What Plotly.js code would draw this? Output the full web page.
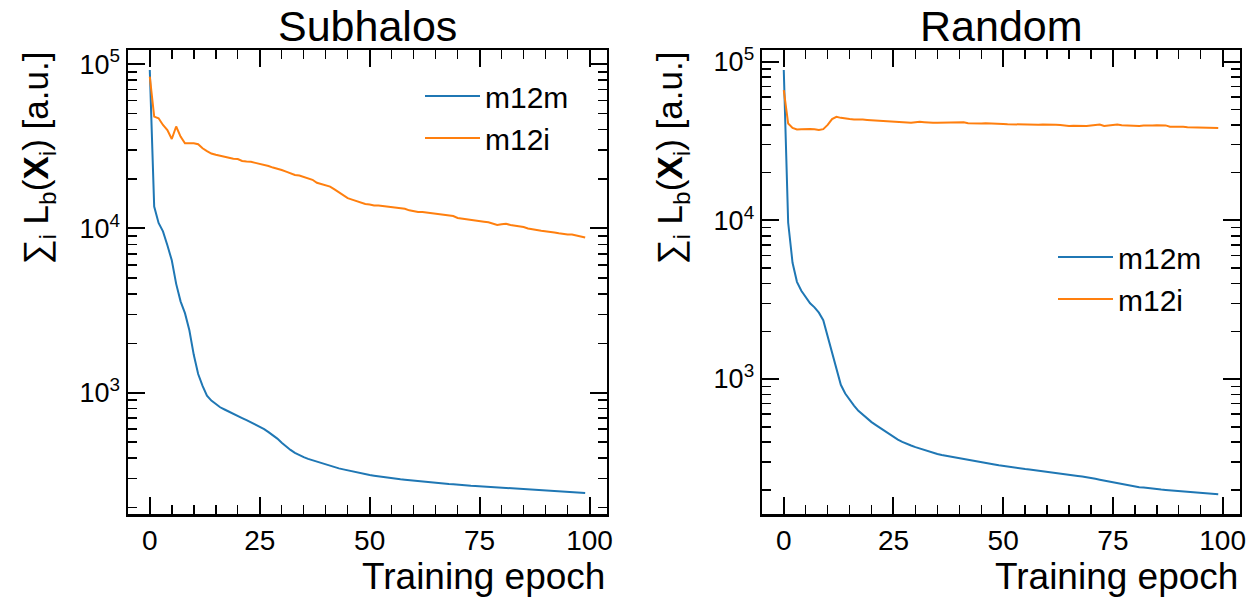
<!DOCTYPE html>
<html>
<head>
<meta charset="utf-8">
<script src="https://cdn.plot.ly/plotly-3.0.1.min.js"></script>
<style>html,body{margin:0;padding:0;background:#fff;}#chart{width:1260px;height:597px;}</style>
</head>
<body>
<div id="chart"></div>
<script>
// Epoch axis
const epochs = Array.from({length: 100}, (_, i) => i);

// Subhalos panel
const subhalosM12m = [92300,13600,10800,9600,7900,6400,4600,3600,3050,2400,
  1700,1300,1100,960,895,850,815,790,765,740,
  720,700,680,660,640,620,600,575,550,525,
  495,470,448,430,415,405,395,387,380,372,
  365,358,352,346,341,336,331,327,323,319,
  315,312,309,306,303,301,299,297,295,293,
  291,289,287,286,284,283,281,280,278,277,
  275,274,272,271,270,269,267,266,265,264,
  263,262,261,260,259,258,257,256,256,255,
  254,253,252,251,250,249,248,247,246,245];
const subhalosM12i = [84100,48000,46900,42700,39800,35100,41800,36300,33000,33000,
  33000,32600,30800,29600,28600,28100,27700,27600,27200,26600,
  26500,25800,25600,25500,25100,24800,24400,24000,23500,23200,
  22700,22200,21600,21200,21000,20600,20300,19800,19000,18700,
  18300,18000,17300,16600,16000,15300,15000,14700,14500,14100,
  14000,13800,13800,13700,13600,13400,13400,13300,13200,12900,
  12700,12600,12600,12500,12500,12300,12200,12100,12000,11900,
  11600,11500,11500,11400,11300,11200,11000,10900,10700,10500,
  10600,10700,10500,10400,10400,10200,10000,9850,9800,9700,
  9650,9500,9450,9350,9250,9200,9200,9100,8950,8820];

// Random panel
const randomM12m = [88700,9700,5400,4100,3600,3300,3000,2830,2620,2350,
  1850,1450,1130,920,810,740,680,630,595,565,
  535,512,490,468,448,430,415,402,390,381,
  372,364,356,349,343,337,332,328,323,319,
  315,312,308,304,301,298,295,292,289,286,
  283,281,278,276,273,271,269,267,265,263,
  261,259,257,254,251,249,247,245,243,241,
  238,235,232,229,226,223,220,217,214,212,
  210,208,207,205,204,202,201,200,199,198,
  197,196,195,194,193,192,191,190,189,188];
const randomM12i = [66200,40800,38300,37400,37600,37800,37700,37600,37200,37600,
  40000,43500,45000,44300,43800,43500,43300,43400,43200,43000,
  42800,42600,42400,42200,41900,41600,41700,41500,41300,41200,
  41500,41800,41600,41300,41200,41300,41400,41300,41500,41400,
  41400,41500,41000,40800,40900,40800,40900,40700,40600,40600,
  40500,40400,40300,40200,40300,40200,40300,40200,40100,40200,
  40300,40200,40100,40000,39500,39400,39500,39400,39500,39400,
  39700,40000,40200,39400,39600,39900,40200,39800,39600,39500,
  39600,39400,39600,39500,39700,39800,39900,39700,38900,39000,
  38800,38900,38700,38600,38700,38500,38300,38200,38300,38200];

const seriesNames = ["m12m", "m12i"];
const panelTitles = ["Subhalos", "Random"];
const xTickVals = [0, 25, 50, 75, 100];
const yTickVals = [100, 1000, 10000, 100000];
const yTickText = ["10<sup>2</sup>", "10<sup>3</sup>", "10<sup>4</sup>", "10<sup>5</sup>"];
const yMinorVals = [200,300,400,500,600,700,800,900,2000,3000,4000,5000,6000,7000,8000,9000,20000,30000,40000,50000,60000,70000,80000,90000];

const BLUE = "#1f77b4", ORANGE = "#ff7f0e";
const FONT = "Liberation Sans, Arial, Helvetica, sans-serif";

const traces = [
  {x: epochs, y: subhalosM12m, name: seriesNames[0], xaxis: "x", yaxis: "y", legend: "legend", mode: "lines", line: {color: BLUE, width: 2}},
  {x: epochs, y: subhalosM12i, name: seriesNames[1], xaxis: "x", yaxis: "y", legend: "legend", mode: "lines", line: {color: ORANGE, width: 2}},
  {x: epochs, y: randomM12m, name: seriesNames[0], xaxis: "x2", yaxis: "y2", legend: "legend2", mode: "lines", line: {color: BLUE, width: 2}},
  {x: epochs, y: randomM12i, name: seriesNames[1], xaxis: "x2", yaxis: "y2", legend: "legend2", mode: "lines", line: {color: ORANGE, width: 2}}
];

function xAxis(domain, anchor) {
  return {
    domain: domain, anchor: anchor, range: [-4.95, 103.95],
    tickmode: "array", tickvals: xTickVals,
    ticks: "inside", ticklen: 17, tickwidth: 2, tickcolor: "#000",
    showline: true, linewidth: 2.5, linecolor: "#000", mirror: "ticks",
    showgrid: false, zeroline: false,
    tickfont: {family: FONT, size: 28, color: "#000"},
    minor: {tick0: 0, dtick: 5, ticks: "inside", ticklen: 9, tickwidth: 1.5, tickcolor: "#000", showgrid: false}
  };
}
function yAxis(domain, anchor, range) {
  return {
    domain: domain, anchor: anchor, type: "log", range: range,
    tickmode: "array", tickvals: yTickVals, ticktext: yTickText,
    ticks: "inside", ticklen: 17, tickwidth: 2, tickcolor: "#000",
    showline: true, linewidth: 2.5, linecolor: "#000", mirror: "ticks",
    showgrid: false, zeroline: false,
    tickfont: {family: FONT, size: 27, color: "#000"},
    minor: {tickmode: "array", tickvals: yMinorVals, ticks: "inside", ticklen: 9, tickwidth: 1.5, tickcolor: "#000", showgrid: false}
  };
}

const yDom = [0.139, 0.9162];
const ylabel = "∑<sub>i</sub> L<sub>b</sub>(<b>X</b><sub>i</sub>) [a.u.]";

const layout = {
  width: 1260, height: 597,
  margin: {l: 0, r: 0, t: 0, b: 0},
  paper_bgcolor: "#fff", plot_bgcolor: "#fff",
  font: {family: FONT, color: "#000"},
  xaxis: xAxis([0.1016, 0.4817], "y"),
  yaxis: yAxis(yDom, "x", [2.261, 5.087]),
  xaxis2: xAxis([0.6048, 0.9841], "y2"),
  yaxis2: yAxis(yDom, "x2", [2.149, 5.074]),
  legend: {x: 420/1260, y: 1 - 70/597, xanchor: "left", yanchor: "top", bgcolor: "rgba(0,0,0,0)", borderwidth: 0, itemwidth: 55, font: {family: FONT, size: 30}},
  legend2: {x: 1053/1260, y: 1 - 231/597, xanchor: "left", yanchor: "top", bgcolor: "rgba(0,0,0,0)", borderwidth: 0, itemwidth: 55, font: {family: FONT, size: 30}},
  annotations: [
    {text: panelTitles[0], xref: "paper", yref: "paper", x: 0.2917, y: 1 - 26/597, xanchor: "center", yanchor: "middle", showarrow: false, font: {family: FONT, size: 43}},
    {text: panelTitles[1], xref: "paper", yref: "paper", x: 0.7945, y: 1 - 26/597, xanchor: "center", yanchor: "middle", showarrow: false, font: {family: FONT, size: 43}},
    {text: "Training epoch", xref: "paper", yref: "paper", x: 0.4817, y: 1 - 576/597, xanchor: "right", yanchor: "middle", showarrow: false, font: {family: FONT, size: 37}},
    {text: "Training epoch", xref: "paper", yref: "paper", x: 0.9841, y: 1 - 576/597, xanchor: "right", yanchor: "middle", showarrow: false, font: {family: FONT, size: 37}},
    {text: ylabel, xref: "paper", yref: "paper", x: 38/1260, y: 0.9162, xanchor: "center", yanchor: "top", textangle: -90, showarrow: false, font: {family: FONT, size: 35}},
    {text: ylabel, xref: "paper", yref: "paper", x: 672/1260, y: 0.9162, xanchor: "center", yanchor: "top", textangle: -90, showarrow: false, font: {family: FONT, size: 35}}
  ],
  showlegend: true
};

Plotly.newPlot("chart", traces, layout, {staticPlot: true, displayModeBar: false});
</script>
</body>
</html>
